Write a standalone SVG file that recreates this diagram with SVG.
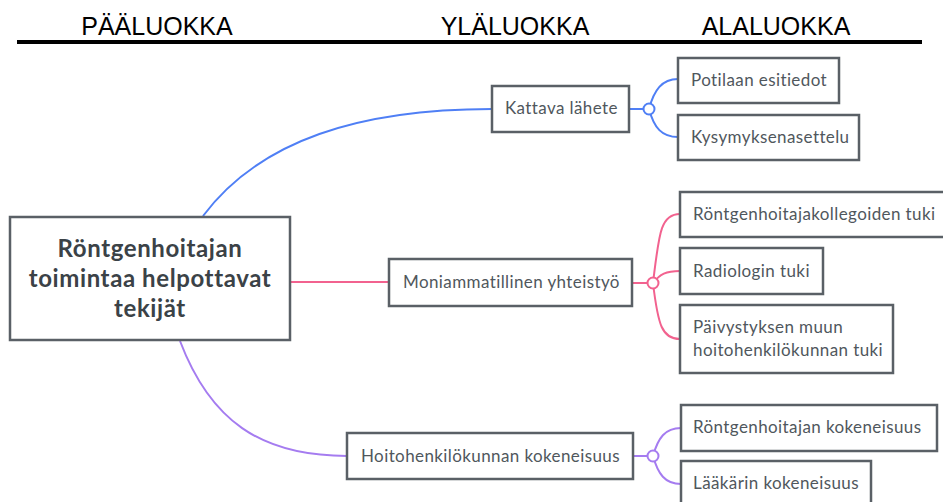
<svg xmlns="http://www.w3.org/2000/svg" width="943" height="502" viewBox="0 0 943 502">
<style>
.hdr{font-family:"Liberation Sans",Arial,sans-serif;font-size:25px;fill:#000;text-anchor:middle}
.box{fill:#fff;stroke:#5a6066;stroke-width:2.5}
.t{font-family:Lato,"Noto Sans",sans-serif;font-size:17px;letter-spacing:0.4px;fill:#50575d}
.main{font-family:Lato,"Noto Sans",sans-serif;font-size:24px;letter-spacing:0.6px;font-weight:bold;fill:#3b4247;text-anchor:middle}
.c{fill:none;stroke-width:2}
.blue{stroke:#4f7ff5}
.pink{stroke:#f2628f}
.purple{stroke:#a57cf0}
.dot{fill:#fff;stroke-width:2}
</style>
<rect width="943" height="502" fill="#fff"/>
<g id="header">
<text class="hdr" x="157" y="35">PÄÄLUOKKA</text>
<text class="hdr" x="515" y="35">YLÄLUOKKA</text>
<text class="hdr" x="776" y="35">ALALUOKKA</text>
<line x1="17" y1="42" x2="922" y2="42" stroke="#000" stroke-width="4"/>
</g>
<g id="connectors">
<path class="c blue" d="M203,216 C260,140 360,109 492,109"/>
<path class="c pink" d="M290,282 L389,282"/>
<path class="c purple" d="M180,341 C210,420 260,456 347,456"/>
<path class="c blue" d="M629,109 L649,109"/>
<path class="c blue" d="M649,109 C654,90 662,79 678,79"/>
<path class="c blue" d="M649,109 C654,128 662,137 678,137"/>
<path class="c pink" d="M632,283 L653,283"/>
<path class="c pink" d="M653,283 C659,235 660,214 680,214"/>
<path class="c pink" d="M653,283 C660,274 666,271 680,271"/>
<path class="c pink" d="M653,283 C658,325 662,339 680,339"/>
<path class="c purple" d="M633,456 L653,456"/>
<path class="c purple" d="M653,456 C658,438 665,428 681,428"/>
<path class="c purple" d="M653,456 C658,474 665,484 681,484"/>
<circle class="dot blue" cx="649" cy="109" r="5.5"/>
<circle class="dot pink" cx="653" cy="283" r="5.5"/>
<circle class="dot purple" cx="653" cy="456" r="5.5"/>
</g>
<g id="main">
<rect class="box" x="10" y="217" width="280" height="123" stroke-width="3"/>
<text class="main" x="150" y="257">Röntgenhoitajan</text>
<text class="main" x="150" y="287">toimintaa helpottavat</text>
<text class="main" x="150" y="317">tekijät</text>
</g>
<g id="kattava">
<rect class="box" x="492" y="86" width="137" height="46"/>
<text class="t" x="505" y="114">Kattava lähete</text>
</g>
<g id="potilaan">
<rect class="box" x="678" y="58" width="161" height="45"/>
<text class="t" x="691" y="86">Potilaan esitiedot</text>
</g>
<g id="kysymys">
<rect class="box" x="678" y="115" width="181" height="45"/>
<text class="t" x="691" y="143">Kysymyksenasettelu</text>
</g>
<g id="moniammatillinen">
<rect class="box" x="389" y="259" width="243" height="47"/>
<text class="t" x="403" y="288">Moniammatillinen yhteistyö</text>
</g>
<g id="kollegat">
<rect class="box" x="680" y="192" width="265" height="45"/>
<text class="t" x="693" y="220">Röntgenhoitajakollegoiden tuki</text>
</g>
<g id="radiologi">
<rect class="box" x="680" y="248" width="143" height="46"/>
<text class="t" x="693" y="277">Radiologin tuki</text>
</g>
<g id="paivystys">
<rect class="box" x="680" y="305" width="213" height="68"/>
<text class="t" x="693" y="333">Päivystyksen muun</text>
<text class="t" x="693" y="356">hoitohenkilökunnan tuki</text>
</g>
<g id="hoitohenkilokunta">
<rect class="box" x="347" y="433" width="286" height="46"/>
<text class="t" x="361" y="462">Hoitohenkilökunnan kokeneisuus</text>
</g>
<g id="rontgenhoitajan">
<rect class="box" x="681" y="405" width="256" height="46"/>
<text class="t" x="693" y="433">Röntgenhoitajan kokeneisuus</text>
</g>
<g id="laakarin">
<rect class="box" x="681" y="461" width="190" height="46"/>
<text class="t" x="693" y="489">Lääkärin kokeneisuus</text>
</g>
</svg>
